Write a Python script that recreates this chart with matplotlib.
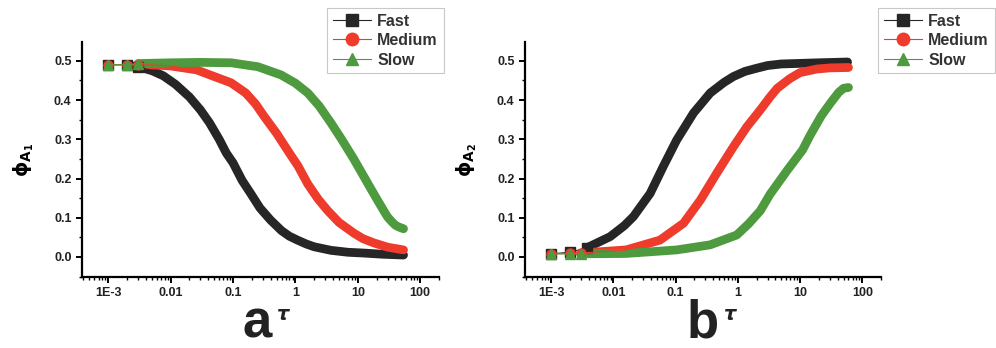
import matplotlib
matplotlib.use("Agg")
import matplotlib.pyplot as plt
from matplotlib.ticker import LogLocator, FixedLocator, MultipleLocator, NullFormatter

plt.rcParams["font.family"] = ["Liberation Sans", "DejaVu Sans"]
plt.rcParams["font.weight"] = "bold"

series_names = ["Fast", "Medium", "Slow"]
colors = ["#262626", "#ee3b2b", "#4e9a3e"]
markers = ["s", "o", "^"]

x_ticks = [1e-3, 1e-2, 1e-1, 1, 10, 100]
x_ticklabels = ["1E-3", "0.01", "0.1", "1", "10", "100"]
y_ticks = [0.0, 0.1, 0.2, 0.3, 0.4, 0.5]

# panel a: phi_A1
a_fast_tau = [0.001, 0.002, 0.003, 0.005, 0.0076, 0.012, 0.02, 0.03, 0.042, 0.06, 0.078,
              0.1, 0.14, 0.19, 0.27, 0.4, 0.6, 0.8, 1.08, 1.5, 2, 3.7, 7, 12.6, 25, 54]
a_fast = [0.49, 0.49, 0.485, 0.475, 0.462, 0.44, 0.408, 0.375, 0.342, 0.30, 0.265,
          0.24, 0.195, 0.163, 0.125, 0.094, 0.067, 0.053, 0.043, 0.033, 0.026, 0.017, 0.012,
          0.01, 0.007, 0.005]
a_med_tau = [0.001, 0.002, 0.003, 0.006, 0.01, 0.026, 0.05, 0.093, 0.16, 0.23, 0.31, 0.5,
             0.8, 1.1, 1.58, 2.3, 3.3, 5, 8.6, 12, 18, 30, 54]
a_med = [0.49, 0.49, 0.49, 0.489, 0.487, 0.477, 0.46, 0.444, 0.418, 0.39, 0.36, 0.315,
         0.265, 0.232, 0.186, 0.148, 0.118, 0.088, 0.061, 0.047, 0.036, 0.025, 0.018]
a_slow_tau = [0.001, 0.002, 0.003, 0.01, 0.03, 0.093, 0.25, 0.59, 1.0, 1.58, 2.4, 3.7,
              5.5, 8.6, 12.6, 17, 21, 26, 30, 35, 40, 46, 54]
a_slow = [0.49, 0.49, 0.493, 0.495, 0.496, 0.495, 0.485, 0.464, 0.443, 0.418, 0.385, 0.342,
          0.30, 0.25, 0.204, 0.168, 0.143, 0.118, 0.102, 0.09, 0.081, 0.076, 0.072]

# panel b: phi_A2
b_fast_tau = [0.001, 0.002, 0.0037, 0.0089, 0.015, 0.021, 0.039, 0.063, 0.104, 0.194, 0.36,
              0.6, 0.85, 1.3, 2.0, 3, 5, 20, 58]
b_fast = [0.008, 0.012, 0.023, 0.052, 0.08, 0.103, 0.162, 0.23, 0.298, 0.367, 0.418,
          0.445, 0.46, 0.473, 0.481, 0.488, 0.492, 0.495, 0.497]
b_med_tau = [0.001, 0.002, 0.003, 0.016, 0.056, 0.134, 0.25, 0.46, 0.85, 1.4, 2.3,
             3.3, 4.3, 6.9, 10, 18.5, 30, 60]
b_med = [0.008, 0.009, 0.01, 0.018, 0.043, 0.086, 0.145, 0.214, 0.281, 0.332, 0.375,
         0.408, 0.43, 0.455, 0.47, 0.479, 0.482, 0.483]
b_slow_tau = [0.001, 0.002, 0.003, 0.016, 0.104, 0.36, 0.96, 1.5, 2.3, 3.3, 6.3, 11,
              14.5, 22, 31, 42, 50, 60]
b_slow = [0.008, 0.008, 0.008, 0.009, 0.018, 0.031, 0.056, 0.085, 0.118, 0.16, 0.222, 0.273,
          0.31, 0.36, 0.393, 0.42, 0.43, 0.432]

panels = [
    ("a", r"$\mathbf{\phi_{A_1}}$", [(a_fast_tau, a_fast), (a_med_tau, a_med), (a_slow_tau, a_slow)]),
    ("b", r"$\mathbf{\phi_{A_2}}$", [(b_fast_tau, b_fast), (b_med_tau, b_med), (b_slow_tau, b_slow)]),
]

fig = plt.figure(figsize=(9.96, 3.48), dpi=100)
axes_rects = [[82 / 996, 71 / 348, 357 / 996, 235 / 348],
              [525 / 996, 71 / 348, 356 / 996, 235 / 348]]
legend_anchor = [(327 / 996, 1 - 8 / 348), (878 / 996, 1 - 8 / 348)]
letter_x = [257 / 996, 703 / 996]

for i, (letter, ylab, data) in enumerate(panels):
    ax = fig.add_axes(axes_rects[i])
    handles = []
    for (tau, phi), c, m, name in zip(data, colors, markers, series_names):
        # dense band of points from tau ~ 0.003 on, sparse markers before that
        ax.plot(tau[2:], phi[2:], color=c, lw=6.3, solid_capstyle="round",
                solid_joinstyle="round", zorder=2)
        ax.plot(tau, phi, color=c, lw=0.8, marker=m, ms=6.5, markevery=[0, 1, 2],
                markeredgecolor=c, zorder=3)
        h, = ax.plot([], [], color=c, lw=0.8, marker=m, ms=9, markeredgecolor=c,
                     label=name)
        handles.append(h)
    ax.set_xscale("log")
    ax.set_xlim(3.8e-4, 200)
    ax.set_ylim(-0.051, 0.548)
    ax.xaxis.set_major_locator(FixedLocator(x_ticks))
    ax.set_xticklabels(x_ticklabels)
    ax.xaxis.set_minor_locator(LogLocator(base=10, subs=range(2, 10), numticks=20))
    ax.xaxis.set_minor_formatter(NullFormatter())
    ax.set_yticks(y_ticks)
    ax.set_yticklabels([f"{v:.1f}" for v in y_ticks])
    ax.yaxis.set_minor_locator(MultipleLocator(0.05))
    for s in ["top", "right"]:
        ax.spines[s].set_visible(False)
    for s in ["left", "bottom"]:
        ax.spines[s].set_linewidth(1.6)
    ax.tick_params(which="major", direction="out", length=4, width=1.4, labelsize=9)
    ax.tick_params(which="minor", direction="out", length=2.5, width=1.0)
    for lab in ax.get_xticklabels() + ax.get_yticklabels():
        lab.set_fontweight("bold")
        lab.set_color("#222222")
    ax.set_ylabel(ylab, fontsize=14, labelpad=13)

    leg = ax.legend(handles=handles, loc="upper left", bbox_to_anchor=legend_anchor[i],
                    bbox_transform=fig.transFigure, frameon=True, fancybox=False,
                    prop={"weight": "bold", "size": 11.5}, handlelength=2.4,
                    handletextpad=0.4, borderpad=0.35, labelspacing=0.28, borderaxespad=0)
    leg.get_frame().set_edgecolor("#bbbbbb")
    leg.get_frame().set_linewidth(0.8)
    for t in leg.get_texts():
        t.set_color("#333333")

    fig.text(letter_x[i], 0.0, letter, fontsize=38, fontweight="bold",
             family=["Liberation Sans Narrow", "Liberation Sans"],
             ha="center", va="bottom", color="#222222")
    fig.text(letter_x[i] + 27 / 996, 0.068, r"$\tau$", fontsize=14,
             ha="center", va="bottom", color="#222222")

fig.savefig("out.png", dpi=100)
